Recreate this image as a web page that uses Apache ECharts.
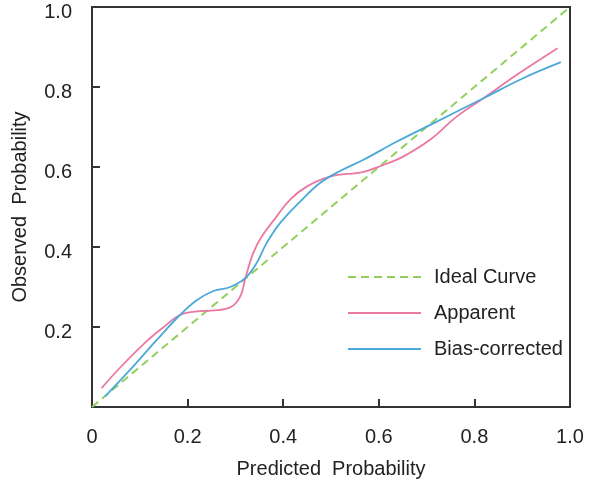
<!DOCTYPE html>
<html>
<head>
<meta charset="utf-8">
<script src="https://cdn.jsdelivr.net/npm/echarts@6/dist/echarts.min.js"></script>
<style>
html,body{margin:0;padding:0;background:#fff;}
#main{width:597px;height:487px;}
</style>
</head>
<body>
<div id="main"></div>
<script>
// 数据
var idealX = [0, 1];
var idealY = [0, 1];

var apparentX = [0.02, 0.06, 0.114, 0.15, 0.184, 0.22, 0.25, 0.289, 0.31, 0.321, 0.337, 0.355, 0.386, 0.414, 0.449, 0.498, 0.568, 0.609, 0.651, 0.707, 0.763, 0.819, 0.888, 0.974];
var apparentY = [0.047, 0.1, 0.164, 0.2, 0.23, 0.239, 0.241, 0.249, 0.276, 0.323, 0.384, 0.426, 0.476, 0.518, 0.551, 0.576, 0.588, 0.605, 0.626, 0.668, 0.726, 0.772, 0.83, 0.897];

var biasX = [0.027, 0.079, 0.135, 0.184, 0.219, 0.254, 0.289, 0.321, 0.344, 0.365, 0.393, 0.439, 0.477, 0.519, 0.568, 0.637, 0.714, 0.819, 0.902, 0.981];
var biasY = [0.026, 0.092, 0.167, 0.23, 0.267, 0.29, 0.3, 0.323, 0.359, 0.409, 0.459, 0.518, 0.56, 0.59, 0.618, 0.663, 0.709, 0.772, 0.822, 0.862];

var seriesNames = ['Ideal Curve', 'Apparent', 'Bias-corrected'];
var seriesColors = ['#93cf5c', '#ea78a2', '#4aa9da'];

function zip(xs, ys){
	return xs.map(function(x, i){ return [x, ys[i]]; });
}

var fontFam = 'Liberation Sans, Arial, sans-serif';

var myChart = echarts.init(document.getElementById('main'));
var option = {
	animation: false,
	color: seriesColors,
	grid: {
		left: 92,
		right: 27,
		top: 7,
		bottom: 80,
		containLabel: false,
		outerBoundsMode: 'none',
		show: true,
		borderColor: '#333',
		borderWidth: 2
	},
	legend: {
		orient: 'vertical',
		left: 342,
		top: 262,
		itemWidth: 73,
		itemHeight: 20,
		itemGap: 16,
		itemStyle: { color: 'rgba(0,0,0,0)', borderWidth: 0 },
		textStyle: {
			color: '#222',
			fontSize: 20,
			fontFamily: fontFam,
			lineHeight: 20,
			padding: [0, 0, 0, 8]
		},
		data: seriesNames
	},
	xAxis: {
		type: 'value',
		min: 0,
		max: 1,
		interval: 0.2,
		name: 'Predicted  Probability',
		nameLocation: 'middle',
		nameGap: 52,
		nameTextStyle: { color: '#222', fontSize: 20, fontFamily: fontFam },
		axisLine: { lineStyle: { color: '#333', width: 2 } },
		axisTick: { inside: true, length: 8, lineStyle: { color: '#333', width: 2 } },
		axisLabel: {
			color: '#222',
			fontSize: 20,
			fontFamily: fontFam,
			margin: 20,
			formatter: function(v){ return v === 0 ? '0' : v.toFixed(1); }
		},
		splitLine: { show: false }
	},
	yAxis: {
		type: 'value',
		min: 0,
		max: 1,
		interval: 0.2,
		name: 'Observed  Probability',
		nameLocation: 'middle',
		nameGap: 62,
		nameTextStyle: { color: '#222', fontSize: 20, fontFamily: fontFam },
		axisLine: { lineStyle: { color: '#333', width: 2 } },
		axisTick: { inside: true, length: 8, lineStyle: { color: '#333', width: 2 } },
		axisLabel: {
			color: '#222',
			fontSize: 20,
			fontFamily: fontFam,
			margin: 20,
			verticalAlign: 'top',
			lineHeight: 10,
			formatter: function(v){ return v === 0 ? '' : v.toFixed(1); }
		},
		splitLine: { show: false }
	},
	series: [{
		name: seriesNames[0],
		type: 'line',
		data: zip(idealX, idealY),
		showSymbol: false,
		symbol: 'none',
		lineStyle: { color: seriesColors[0], width: 2, type: [8, 5] }
	}, {
		name: seriesNames[1],
		type: 'line',
		data: zip(apparentX, apparentY),
		smooth: 0.4,
		showSymbol: false,
		symbol: 'none',
		lineStyle: { color: seriesColors[1], width: 1.8 }
	}, {
		name: seriesNames[2],
		type: 'line',
		data: zip(biasX, biasY),
		smooth: 0.4,
		showSymbol: false,
		symbol: 'none',
		lineStyle: { color: seriesColors[2], width: 1.8 }
	}]
};
myChart.setOption(option);
</script>
</body>
</html>
